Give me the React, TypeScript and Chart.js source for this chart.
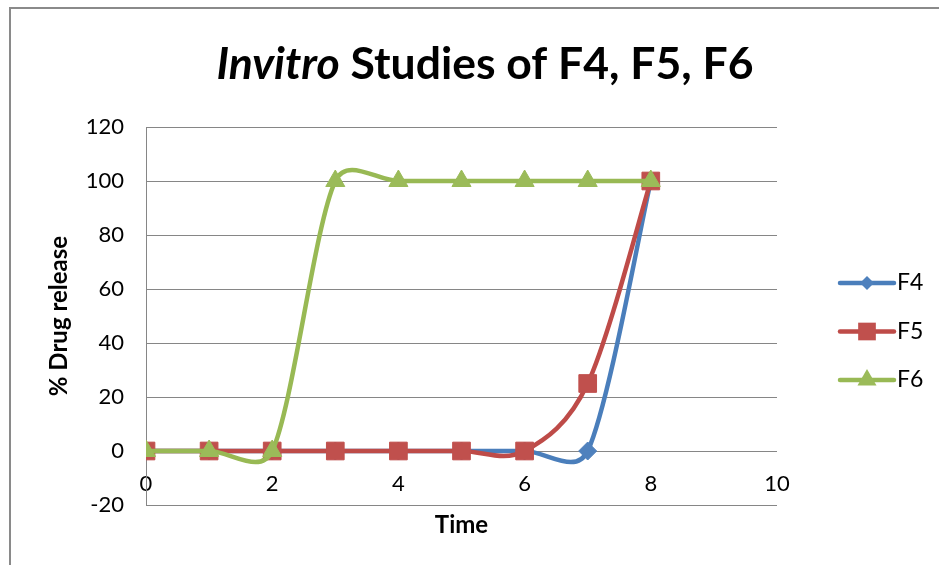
import React, { useEffect, useRef } from "react";
import { Chart, registerables } from "chart.js";

Chart.register(...registerables);

const timePoints = [0, 1, 2, 3, 4, 5, 6, 7, 8];
const f4Values = [0, 0, 0, 0, 0, 0, 0, 0, 100];
const f5Values = [0, 0, 0, 0, 0, 0, 0, 25, 100];
const f6Values = [0, 0, 0, 100, 100, 100, 100, 100, 100];
const seriesNames = ["F4", "F5", "F6"];
const xTickStep = 2;
const xMin = 0;
const xMax = 10;
const yTickStep = 20;
const yMin = -20;
const yMax = 120;
const titleItalic = "Invitro";
const titleRest = " Studies of F4, F5, F6";
const xTitle = "Time";
const yTitle = "% Drug release";

const FONT = "Lato, 'Open Sans', sans-serif";
const lineColors = ["#4A7EBB", "#BE4B48", "#98B954"];
const markerColors = ["#4F81BD", "#C0504D", "#9BBB59"];
const markerStyles = ["rectRot", "rect", "triangle"];
const markerRadii = [9, 12.5, 11];

function drawMarker(ctx: CanvasRenderingContext2D, style: string, x: number, y: number, r: number) {
  ctx.beginPath();
  if (style === "rectRot") {
    ctx.moveTo(x, y - r);
    ctx.lineTo(x + r, y);
    ctx.lineTo(x, y + r);
    ctx.lineTo(x - r, y);
  } else if (style === "rect") {
    const h = r * Math.SQRT1_2;
    ctx.rect(x - h, y - h, 2 * h, 2 * h);
  } else {
    const a = r;
    ctx.moveTo(x, y - a);
    ctx.lineTo(x + a * Math.cos(Math.PI / 6), y + a / 2);
    ctx.lineTo(x - a * Math.cos(Math.PI / 6), y + a / 2);
  }
  ctx.closePath();
  ctx.fill();
}

// Excel-like smoothing: Catmull-Rom arms (1/6), shortened next to short segments
const smoothPlugin = {
  id: "excelSmooth",
  beforeDatasetDraw(chart: any, args: any) {
    const meta = args.meta;
    const line = meta.dataset;
    if (!line || !line.updateControlPoints) return;
    line.updateControlPoints(chart.chartArea, meta.iAxis);
    const pts = meta.data;
    for (let i = 0; i < pts.length; i++) {
      const p = pts[i];
      const prev = pts[i - 1] || p;
      const next = pts[i + 1] || p;
      const d01 = Math.hypot(p.x - prev.x, p.y - prev.y);
      const d12 = Math.hypot(next.x - p.x, next.y - p.y);
      const sum = d01 + d12;
      const fa = sum > 0 ? Math.min(1 / 6, (0.5 * d01) / sum) : 0;
      const fb = sum > 0 ? Math.min(1 / 6, (0.5 * d12) / sum) : 0;
      const dx = next.x - prev.x;
      const dy = next.y - prev.y;
      p.cp1x = p.x - fa * dx;
      p.cp1y = p.y - fa * dy;
      p.cp2x = p.x + fb * dx;
      p.cp2y = p.y + fb * dy;
    }
    line._path = undefined;
  },
};

const decorPlugin = {
  id: "decor",
  beforeDraw(chart: any) {
    const ctx = chart.ctx as CanvasRenderingContext2D;
    ctx.save();
    ctx.fillStyle = "#ffffff";
    ctx.fillRect(0, 0, chart.width, chart.height);
    ctx.strokeStyle = "#8a8a8a";
    ctx.lineWidth = 2;
    ctx.beginPath();
    ctx.moveTo(10, chart.height + 5);
    ctx.lineTo(10, 8);
    ctx.lineTo(chart.width + 5, 8);
    ctx.stroke();
    ctx.restore();
  },
  afterDraw(chart: any) {
    const ctx = chart.ctx as CanvasRenderingContext2D;
    const area = chart.chartArea;
    ctx.save();
    // Title
    const size = 44.5;
    ctx.textBaseline = "alphabetic";
    ctx.fillStyle = "#000";
    ctx.font = `italic bold ${size}px ${FONT}`;
    const w1 = ctx.measureText(titleItalic).width;
    ctx.font = `bold ${size}px ${FONT}`;
    const w2 = ctx.measureText(titleRest).width;
    const cx = 485;
    const x0 = cx - (w1 + w2) / 2;
    ctx.font = `italic bold ${size}px ${FONT}`;
    ctx.textAlign = "left";
    ctx.fillText(titleItalic, x0, 79);
    ctx.font = `bold ${size}px ${FONT}`;
    ctx.fillText(titleRest, x0 + w1, 79);

    // X title
    ctx.font = `bold 24px ${FONT}`;
    ctx.textAlign = "center";
    ctx.textBaseline = "middle";
    ctx.fillText(xTitle, (area.left + area.right) / 2, 525);

    // Legend
    const lx = 840;
    const lw = 54;
    chart.data.datasets.forEach((ds: any, i: number) => {
      const y = 283 + i * 48.5;
      ctx.strokeStyle = lineColors[i];
      ctx.lineWidth = 4.5;
      ctx.lineCap = "round";
      ctx.beginPath();
      ctx.moveTo(lx, y);
      ctx.lineTo(lx + lw, y);
      ctx.stroke();
      ctx.fillStyle = markerColors[i];
      drawMarker(ctx, markerStyles[i], lx + lw / 2, y, i === 0 ? 7 : markerRadii[i]);
      ctx.fillStyle = "#000";
      ctx.font = `23px ${FONT}`;
      ctx.textAlign = "left";
      ctx.textBaseline = "middle";
      ctx.fillText(ds.label, lx + lw + 3, y);
    });
    ctx.restore();
  },
};

export default function App() {
  const ref = useRef<HTMLCanvasElement | null>(null);
  useEffect(() => {
    if (!ref.current) return;
    const series = [f4Values, f5Values, f6Values];
    const chart = new Chart(ref.current, {
      type: "line",
      data: {
        datasets: series.map((vals, i) => ({
          label: seriesNames[i],
          data: timePoints.map((t, j) => ({ x: t, y: vals[j] })),
          borderColor: lineColors[i],
          backgroundColor: markerColors[i],
          borderWidth: 4.5,
          tension: 0.5,
          fill: false,
          pointStyle: markerStyles[i] as any,
          pointRadius: markerRadii[i],
          pointBorderWidth: 1,
          pointBorderColor: markerColors[i],
          pointBackgroundColor: markerColors[i],
          order: 2 - i,
        })),
      },
      options: {
        responsive: false,
        animation: false,
        layout: { padding: { top: 127, right: 162, bottom: 60, left: 0 } },
        plugins: {
          legend: { display: false },
          title: { display: false },
          tooltip: { enabled: false },
        },
        scales: {
          x: {
            type: "linear",
            position: { y: 0 } as any,
            min: xMin,
            max: xMax,
            ticks: {
              stepSize: xTickStep,
              padding: 20,
              color: "#000",
              font: { family: FONT, size: 22 },
              maxRotation: 0,
            },
            grid: { display: false, drawTicks: false },
            border: { display: false },
          },
          y: {
            type: "linear",
            min: yMin,
            max: yMax,
            ticks: {
              stepSize: yTickStep,
              padding: 22,
              color: "#000",
              font: { family: FONT, size: 22 },
            },
            grid: { color: "#868686", lineWidth: 1, drawTicks: false },
            border: { display: true, color: "#868686", width: 1 },
            title: {
              display: true,
              text: yTitle,
              color: "#000",
              font: { family: FONT, size: 24, weight: "bold" },
              padding: { top: 45, bottom: 0 },
            },
            afterFit: (s: any) => {
              s.width = 146;
            },
          },
        },
      },
      plugins: [smoothPlugin, decorPlugin],
    });
    return () => chart.destroy();
  }, []);
  return (
    <div style={{ position: "absolute", left: 0, top: 0, width: 939, height: 565 }}>
      <canvas ref={ref} width={939} height={565} />
    </div>
  );
}
